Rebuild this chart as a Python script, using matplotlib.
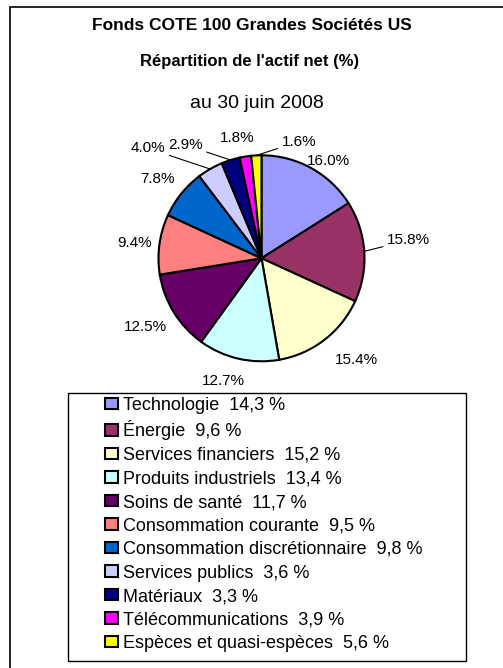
"""
Fonds COTE 100 - répartition de l'actif net au 30 juin 2008
"""

import numpy as np
import matplotlib
matplotlib.use('Agg')
import matplotlib.pyplot as plt
from matplotlib.patches import Rectangle

plt.rcParams['font.family'] = ['Liberation Sans', 'DejaVu Sans']

# données ----------
secteurs = ['Technologie', 'Énergie', 'Services financiers', 'Produits industriels',
            'Soins de santé', 'Consommation courante', 'Consommation discrétionnaire',
            'Services publics', 'Matériaux', 'Télécommunications', 'Espèces et quasi-espèces']
parts_pie = [16.0, 15.8, 15.4, 12.7, 12.5, 9.4, 7.8, 4.0, 2.9, 1.8, 1.6]
parts_legende = ['14,3 %', '9,6 %', '15,2 %', '13,4 %', '11,7 %', '9,5 %',
                 '9,8 %', '3,6 %', '3,3 %', '3,9 %', '5,6 %']
couleurs = ['#9999FF', '#993366', '#FFFFCC', '#CCFFFF', '#660066', '#FF8080',
            '#0066CC', '#CCCCFF', '#000080', '#FF00FF', '#FFFF00']

# placement des étiquettes (angle en degrés, rayon relatif), trait de rappel
pos_etiq = [(55.3, 1.15), (7.0, 1.44), (-47.2, 1.35), (-107.3, 1.245), (-149.6, 1.31),
            (173.1, 1.237), (142.7, 1.27), (135.9, 1.535), (123.9, 1.326), (101.4, 1.19),
            (72.2, 1.19)]
rappel = [False, True, False, False, False, False, False, True, True, False, True]

W, H = 503, 668
fig = plt.figure(figsize=(W / 100, H / 100), dpi=100)

# cadre général
fig.patches.append(Rectangle((10 / W, -0.1), 1.2, 1.1 - 7 / H, transform=fig.transFigure,
                             fill=False, edgecolor='black', linewidth=1.2))

# titres
fig.text(252 / W, 1 - 30 / H, 'Fonds COTE 100 Grandes Sociétés US', ha='center',
         va='baseline', fontsize=12.5, fontweight='bold')
fig.text(250 / W, 1 - 66 / H, "Répartition de l'actif net (%)", ha='center',
         va='baseline', fontsize=12, fontweight='bold')
fig.text(257 / W, 1 - 108 / H, 'au 30 juin 2008', ha='center', va='baseline', fontsize=14)

# camembert ----------
cx, cy, R = 261.5, 258.3, 103
ax = fig.add_axes([(cx - 2 * R) / W, (H - cy - 2 * R) / H, 4 * R / W, 4 * R / H])
wedges, _ = ax.pie(parts_pie, colors=couleurs, startangle=90, counterclock=False,
                   wedgeprops=dict(edgecolor='black', linewidth=1.5))
ax.set_xlim(-2, 2)
ax.set_ylim(-2, 2)
ax.axis('off')

for w, val, (ang, r), lead in zip(wedges, parts_pie, pos_etiq, rappel):
    a = np.deg2rad(ang)
    xt, yt = r * np.cos(a), r * np.sin(a)
    mid = np.deg2rad((w.theta1 + w.theta2) / 2)
    txt = '%.1f%%' % val
    if lead:
        ax.annotate(txt, xy=(np.cos(mid), np.sin(mid)), xytext=(xt, yt),
                    ha='center', va='center', fontsize=11,
                    arrowprops=dict(arrowstyle='-', color='black', linewidth=0.8,
                                    shrinkA=1, shrinkB=0))
    else:
        ax.text(xt, yt, txt, ha='center', va='center', fontsize=11)

# légende ----------
fig.patches.append(Rectangle((68 / W, 1 - 661 / H), 398 / W, 268 / H, transform=fig.transFigure,
                             fill=False, edgecolor='black', linewidth=1.0))
etiquettes = ['%s  %s' % (s, p) for s, p in zip(secteurs, parts_legende)]
fig.legend(wedges, etiquettes, loc='upper left', bbox_to_anchor=(105 / W, 1 - 397 / H),
           frameon=False, fontsize=13, borderpad=0, borderaxespad=0,
           handlelength=0.72, handleheight=0.62, handletextpad=0.25, labelspacing=0.36)

plt.savefig('out.png', dpi=100)
